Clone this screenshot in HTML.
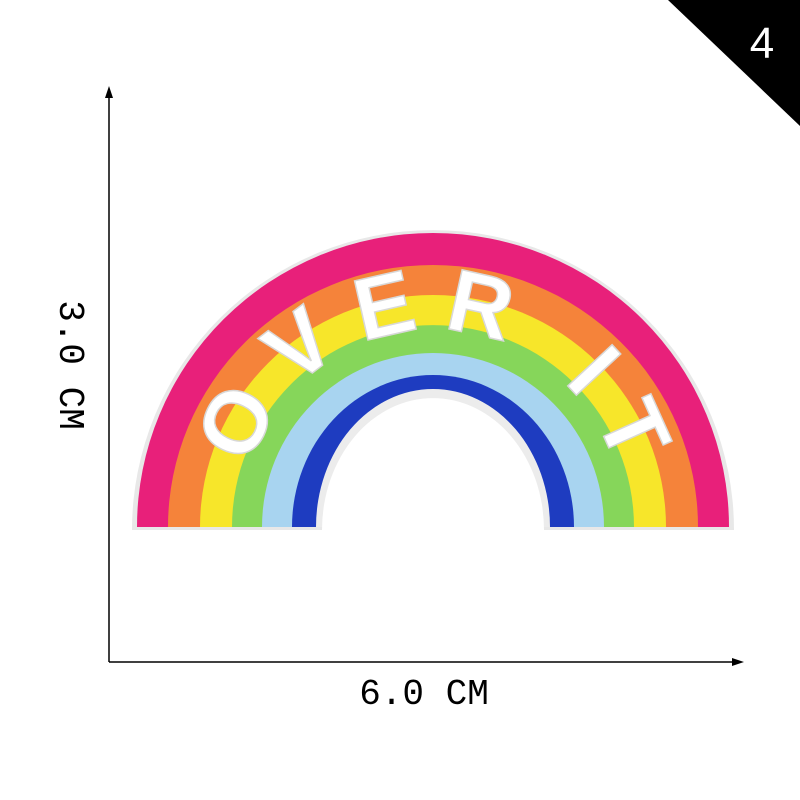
<!DOCTYPE html>
<html><head><meta charset="utf-8"><style>
html,body{margin:0;padding:0;background:#fff;}
svg{display:block;}
</style></head><body>
<svg width="800" height="800" viewBox="0 0 800 800">
  <rect width="800" height="800" fill="#fff"/>
  <polygon points="668,0 800,0 800,126" fill="#000"/>
  <text x="762" y="58" font-family="Liberation Sans, sans-serif" font-size="44" fill="#fff" text-anchor="middle">4</text>

  <line x1="109" y1="96" x2="109" y2="662" stroke="#000" stroke-width="1.5"/>
  <polygon points="109,86 105,98 113,98" fill="#000"/>
  <line x1="109" y1="662" x2="736" y2="662" stroke="#000" stroke-width="1.5"/>
  <polygon points="744,662 732,658 732,666" fill="#000"/>
  <text transform="translate(60,365) rotate(90)" font-family="Liberation Mono, monospace" font-size="36" text-anchor="middle" fill="#000">3.0 CM</text>
  <text x="424" y="704" font-family="Liberation Mono, monospace" font-size="36" text-anchor="middle" fill="#000">6.0 CM</text>

  <g>
    <path d="M132,530 A301,300 0 0 1 734,530 Z" fill="#e8e8e8"/>
    <path d="M137,527 A296,294 0 0 1 729,527 Z" fill="#e8207a"/>
    <path d="M168,527 A265,262 0 0 1 698,527 Z" fill="#f5833a"/>
    <path d="M200,527 A233,232 0 0 1 666,527 Z" fill="#f7e62a"/>
    <path d="M232,527 A201,202 0 0 1 634,527 Z" fill="#86d65a"/>
    <path d="M262,527 A171,174 0 0 1 604,527 Z" fill="#a8d4f0"/>
    <path d="M292,527 A141,152 0 0 1 574,527 Z" fill="#1e3cc0"/>
    <path d="M316,527 A117,138 0 0 1 550,527 Z" fill="#ececec"/>
    <path d="M322,530 A111,132 0 0 1 544,530 Z" fill="#fff"/>
  </g>
  <defs><path id="arc" d="M243,520 A190,190 0 0 1 623,520"/></defs>
  <text font-family="Liberation Sans, sans-serif" font-size="88" font-weight="bold" fill="#fff" stroke="#d8d8d8" stroke-width="1.5"><textPath href="#arc" startOffset="50%" text-anchor="middle" textLength="490" lengthAdjust="spacing">OVER IT</textPath></text>
</svg>
</body></html>
